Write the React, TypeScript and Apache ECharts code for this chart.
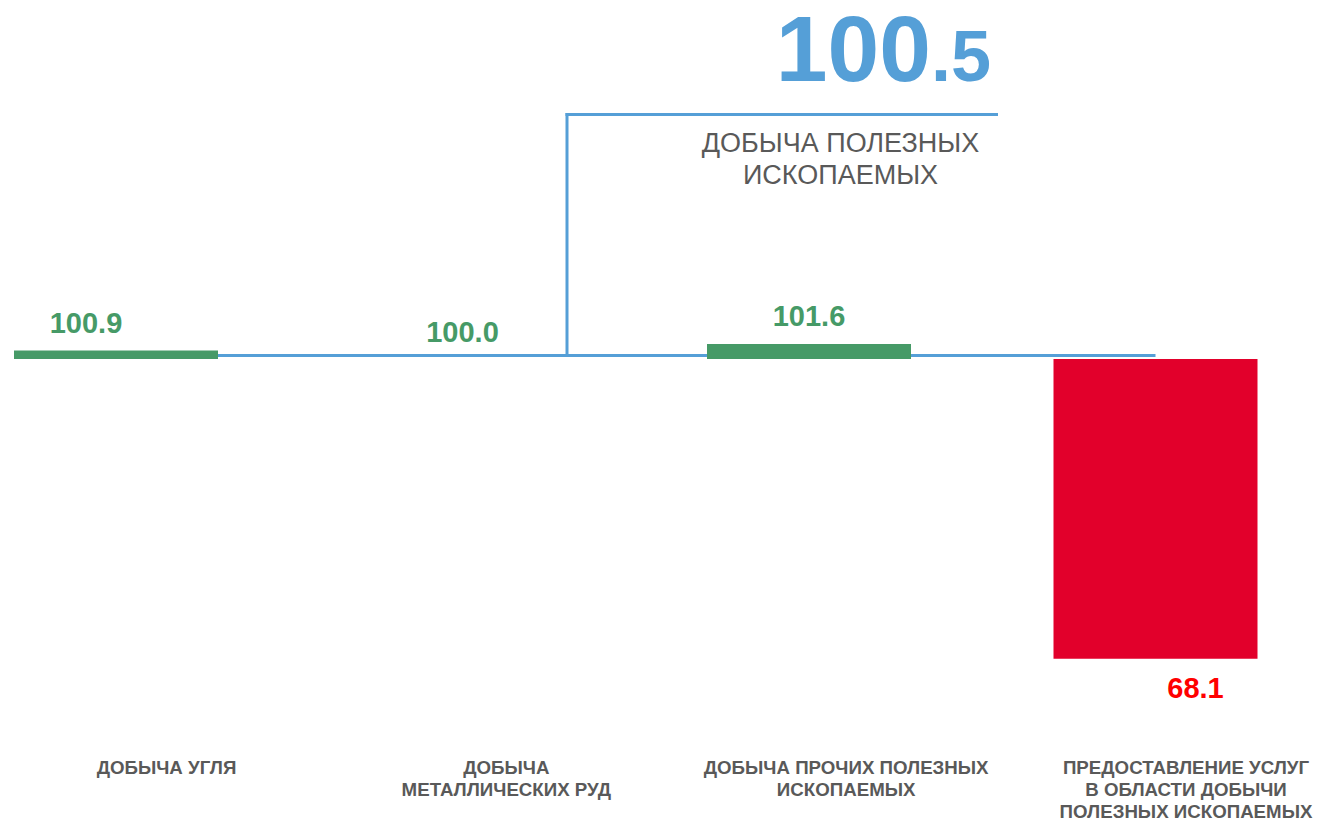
import React, { useEffect, useRef } from "react";
import * as echarts from "echarts";

const categories = [
  "ДОБЫЧА УГЛЯ",
  "ДОБЫЧА\nМЕТАЛЛИЧЕСКИХ РУД",
  "ДОБЫЧА ПРОЧИХ ПОЛЕЗНЫХ\nИСКОПАЕМЫХ",
  "ПРЕДОСТАВЛЕНИЕ УСЛУГ\nВ ОБЛАСТИ ДОБЫЧИ\nПОЛЕЗНЫХ ИСКОПАЕМЫХ",
];
const values = [100.9, 100.0, 101.6, 68.1];
const baseValue = 100;
const totalInt = "100";
const totalFrac = ".5";
const totalTitle = "ДОБЫЧА ПОЛЕЗНЫХ\nИСКОПАЕМЫХ";

const FONT = '"Liberation Sans", Arial, sans-serif';
const GREEN = "#469a67";
const RED = "#e2002b";
const BLUE = "#559fd7";
const GRAY = "#595959";

export default function App() {
  const ref = useRef<HTMLDivElement>(null);
  useEffect(() => {
    document.body.style.margin = "0";
    if (!ref.current) return;
    const chart = echarts.init(ref.current, null, { renderer: "svg" });
    const bases = values.map((v) => Math.min(v, baseValue));
    const deltas = values.map((v, i) => {
      const up = v >= baseValue;
      return {
        value: Math.abs(v - baseValue),
        itemStyle: { color: up ? GREEN : RED },
        label: up
          ? { position: "top", distance: 13, color: GREEN, offset: i === 0 ? [-30, 0] : [0, 0] }
          : { position: "bottom", distance: 15, color: "#ff0000", offset: [40, 0] },
      };
    });
    chart.setOption({
      animation: false,
      grid: [
        { left: 116, top: 77, width: 1039.5, height: 658 },
        { left: 166.5, top: 0, width: 1019.5, height: 740 },
      ],
      xAxis: [
        {
          type: "category",
          gridIndex: 0,
          boundaryGap: false,
          data: categories,
          axisLine: { show: false },
          axisTick: { show: false },
          axisLabel: { show: false },
        },
        {
          type: "category",
          gridIndex: 1,
          boundaryGap: false,
          data: categories,
          axisLine: { show: false },
          axisTick: { show: false },
          axisLabel: {
            margin: 23,
            fontFamily: FONT,
            fontWeight: "bold",
            fontSize: 18.7,
            lineHeight: 22,
            color: GRAY,
            interval: 0,
          },
        },
      ],
      yAxis: [
        { type: "value", gridIndex: 0, min: 60, max: 130, show: false },
        { type: "value", gridIndex: 1, min: 0, max: 1, show: false },
      ],
      series: [
        {
          type: "line",
          xAxisIndex: 0,
          yAxisIndex: 0,
          z: 1,
          data: values.map(() => baseValue + 0.37),
          symbol: "none",
          lineStyle: { color: BLUE, width: 3 },
          silent: true,
        },
        {
          type: "bar",
          stack: "w",
          z: 2,
          barWidth: 204,
          clip: false,
          data: bases,
          itemStyle: { color: "transparent" },
          silent: true,
        },
        {
          type: "bar",
          stack: "w",
          z: 2,
          barWidth: 204,
          clip: false,
          data: deltas,
          label: {
            show: true,
            fontFamily: FONT,
            fontWeight: "bold",
            fontSize: 29,
            formatter: (p: any) => values[p.dataIndex].toFixed(1),
          },
        },
      ],
      graphic: [
        {
          type: "line",
          shape: { x1: 567, y1: 357, x2: 567, y2: 113 },
          style: { stroke: BLUE, lineWidth: 3 },
        },
        {
          type: "line",
          shape: { x1: 565.5, y1: 114.5, x2: 998, y2: 114.5 },
          style: { stroke: BLUE, lineWidth: 3 },
        },
        {
          type: "text",
          x: 931,
          y: 49,
          style: {
            text: totalInt,
            fontFamily: FONT,
            fontWeight: "bold",
            fontSize: 93,
            fill: BLUE,
            textAlign: "right",
            textVerticalAlign: "middle",
          },
        },
        {
          type: "text",
          x: 931,
          y: 56,
          style: {
            text: totalFrac,
            fontFamily: FONT,
            fontWeight: "bold",
            fontSize: 72,
            fill: BLUE,
            textAlign: "left",
            textVerticalAlign: "middle",
          },
        },
        {
          type: "text",
          x: 840.5,
          y: 159,
          style: {
            text: totalTitle,
            fontFamily: FONT,
            fontSize: 27,
            lineHeight: 32,
            fill: GRAY,
            textAlign: "center",
            textVerticalAlign: "middle",
          },
        },
      ],
    });
    return () => chart.dispose();
  }, []);
  return <div ref={ref} style={{ width: 1317, height: 822 }} />;
}
